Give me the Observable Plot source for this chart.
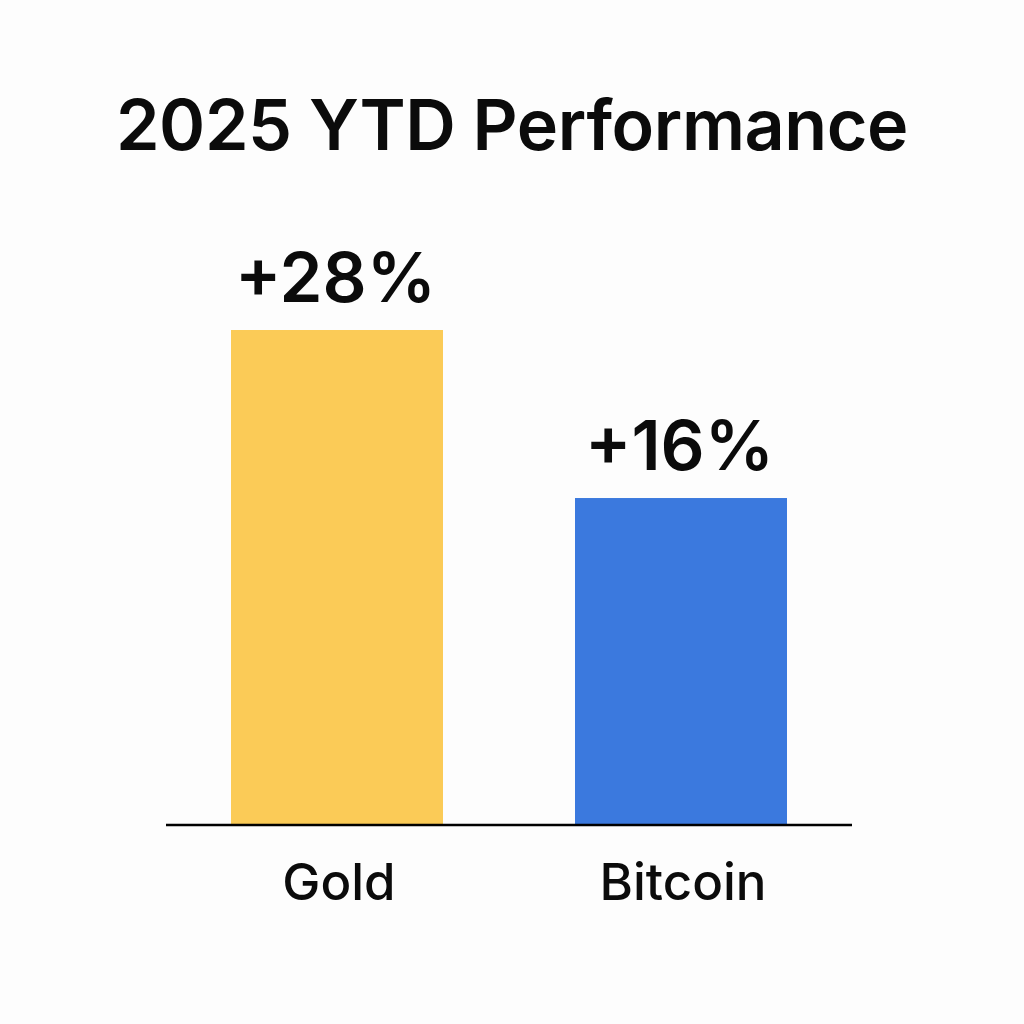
<!DOCTYPE html>
<html>
<head>
<meta charset="utf-8">
<script src="https://cdn.jsdelivr.net/npm/d3@7"></script>
<script src="https://cdn.jsdelivr.net/npm/@observablehq/plot@0.6"></script>
<style>
html,body{margin:0;padding:0;background:#fdfdfd;}
#title{height:200px;box-sizing:border-box;padding-top:81px;text-align:center;font:600 70px/88px Inter,sans-serif;letter-spacing:-0.4px;color:#0b0b0b;white-space:nowrap;}
#chart svg{display:block;}
</style>
</head>
<body>
<div id="title"></div>
<div id="chart"></div>
<script>
const titleText = "2025 YTD Performance";
const assets = ["Gold", "Bitcoin"];
const returns = [28, 16];
const labels = ["+28%", "+16%"];
const colors = ["#FBCB57", "#3B79DE"];
const table = assets.map((asset, i) => ({asset, value: returns[i], label: labels[i], color: colors[i]}));

document.getElementById("title").textContent = titleText;

const chart = Plot.plot({
  width: 1024,
  height: 824,
  marginTop: 0, marginBottom: 0, marginLeft: 166, marginRight: 172,
  style: {background: "transparent", fontFamily: "Inter, sans-serif"},
  x: {domain: assets, range: [231, 787], paddingInner: 0.385, paddingOuter: 0, axis: null},
  y: {type: "pow", exponent: 0.741, domain: [0, 28], range: [625, 130], axis: null},
  marks: [
    Plot.barY(table, {x: "asset", y: "value", fill: d => d.color}),
    Plot.ruleY([0], {stroke: "#000", strokeWidth: 2.5, dy: -0.5}),
    Plot.text(table, {x: "asset", y: "value", text: "label", dy: -51, dx: -2, fontSize: 69, fontWeight: 600, fill: "#0b0b0b", lineAnchor: "middle", style: {letterSpacing: "-3.5px"}}),
    Plot.text(table, {x: "asset", y: 0, text: "asset", dy: 58, dx: 1.5, fontSize: 51, fontWeight: 500, fill: "#0b0b0b", lineAnchor: "middle"})
  ]
});
document.getElementById("chart").append(chart);
</script>
</body>
</html>
